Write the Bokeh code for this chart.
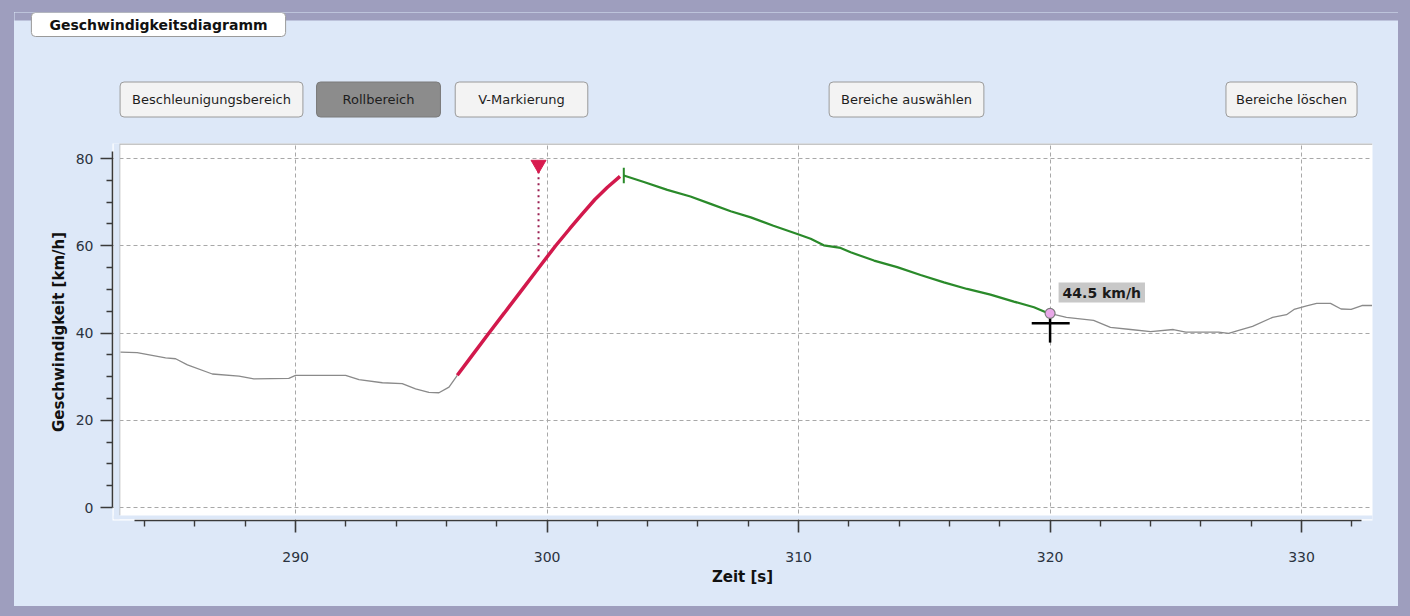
from bokeh.plotting import figure
from bokeh.layouts import column
from bokeh.models import FixedTicker, Range1d, BoxAnnotation, Label
from bokeh.embed import file_html
from bokeh.resources import INLINE

# ---------------- data ----------------
gray_pre_x = [283.04, 283.7, 284.83, 285.23, 285.7, 286.69, 287.75, 288.34, 289.73, 290.0,
              291.99, 292.52, 293.45, 294.24, 294.77, 295.3, 295.7, 296.1, 296.43]
gray_pre_y = [35.6, 35.5, 34.3, 34.1, 32.7, 30.6, 30.1, 29.5, 29.6, 30.3,
              30.3, 29.3, 28.6, 28.4, 27.2, 26.4, 26.3, 27.6, 30.3]

accel_x = [296.43, 297.0, 297.69, 298.3, 299.0, 299.7, 300.34, 300.9, 301.4, 301.9, 302.4, 302.9]
accel_y = [30.3, 34.7, 40.0, 44.6, 49.9, 55.2, 60.0, 63.9, 67.3, 70.6, 73.4, 75.9]

roll_x = [303.05, 303.85, 304.78, 305.7, 306.5, 307.3, 308.1, 309.0, 309.95, 310.48, 311.0,
          311.67, 312.07, 313.0, 313.92, 314.85, 315.78, 316.7, 317.63, 318.56, 319.36, 319.9]
roll_y = [76.1, 74.6, 72.8, 71.3, 69.6, 67.9, 66.5, 64.6, 62.7, 61.6, 60.1,
          59.5, 58.5, 56.6, 55.1, 53.3, 51.6, 50.1, 48.8, 47.2, 45.9, 44.6]

gray_post_x = [319.9, 320.65, 321.73, 322.4, 323.2, 324.0, 324.9, 325.4, 326.7, 327.1, 327.5,
               328.05, 328.85, 329.4, 329.7, 330.2, 330.6, 331.15, 331.57, 331.97, 332.4, 332.8]
gray_post_y = [44.6, 43.6, 42.9, 41.3, 40.8, 40.3, 40.8, 40.2, 40.2, 39.9, 40.6,
               41.5, 43.6, 44.2, 45.4, 46.2, 46.8, 46.8, 45.5, 45.4, 46.3, 46.3]

v_marker_x = 299.66
v_marker_top = 78.6
v_marker_bottom = 57.0

cursor_x = 320.0
cursor_v = 44.5
cursor_text = "44.5 km/h"

x_ticks = [290, 300, 310, 320, 330]
x_minor = [t for t in range(284, 333, 2) if t % 10 != 0]
y_ticks = [0, 20, 40, 60, 80]
y_minor = [t for t in range(0, 81, 5) if t % 20 != 0]

buttons = ["Beschleunigungsbereich", "Rollbereich", "V-Markierung",
           "Bereiche auswählen", "Bereiche löschen"]
active_button = "Rollbereich"
panel_title = "Geschwindigkeitsdiagramm"
x_label = "Zeit [s]"
y_label = "Geschwindigkeit [km/h]"

# ---------------- styling ----------------
PANEL = "#dde8f8"
OUTER = "#9e9ebe"
FONT = "DejaVu Sans"
W = 1384
TOP0 = 12          # page y where the header canvas starts
PANEL_TOP = 20     # page y where the light-blue panel starts
HEAD_H = 131
MAIN_H = 463

# ---- header strip (title tab + buttons); its coordinates are page pixels ----
head = figure(width=W, height=HEAD_H, output_backend="svg", toolbar_location=None,
              x_range=Range1d(14, 14 + W), y_range=Range1d(TOP0 + HEAD_H, TOP0),
              x_axis_type=None, y_axis_type=None, title=None,
              min_border_left=0, min_border_right=0, min_border_top=0, min_border_bottom=0)
head.frame_align = False
head.border_fill_color = PANEL
head.background_fill_color = PANEL
head.outline_line_color = None
head.quad(left=[0], right=[14 + W + 10], top=[TOP0 - 6], bottom=[PANEL_TOP],
          fill_color=OUTER, line_color=None)

btn_centers = [211, 378, 521, 906, 1291]
btn_hpad = [12, 26, 23, 12, 10]
for name, cx, hp in zip(buttons, btn_centers, btn_hpad):
    active = name == active_button
    head.add_layout(Label(x=cx, y=99, text=name, text_align="center", text_baseline="middle",
                          text_font=FONT, text_font_size="13px", text_color="#1e1e1e",
                          background_fill_color="#8c8c8c" if active else "#f3f3f3",
                          border_line_color="#7a7a7a" if active else "#9a9a9a",
                          border_radius=4, padding=(hp, 10)))

head.add_layout(Label(x=158, y=24, text=panel_title, text_align="center", text_baseline="middle",
                      text_font=FONT, text_font_size="14px", text_font_style="bold", text_color="#111111",
                      background_fill_color="white", border_line_color="#9a9a9a",
                      border_radius=4, padding=(18, 4)))

# ---- main chart ----
X0, X1 = 282.72, 332.82
Y0, Y1 = -2.98, 83.44

p = figure(width=W, height=MAIN_H, output_backend="svg", toolbar_location=None,
           x_range=Range1d(X0, X1), y_range=Range1d(Y0, Y1),
           min_border_left=98, min_border_right=26, min_border_top=0, min_border_bottom=86,
           title=None)
p.frame_align = False
p.border_fill_color = PANEL
p.background_fill_color = "white"
p.outline_line_color = None


def px2x(px):
    return 290 + (px - 295) / 25.15


def py2y(py):
    return (507 - py) / 4.3625


p.xaxis.ticker = FixedTicker(ticks=x_ticks, minor_ticks=x_minor)
p.yaxis.ticker = FixedTicker(ticks=y_ticks, minor_ticks=y_minor)
p.xaxis.bounds = (283.6, 332.4)
p.yaxis.bounds = (0, 81.6)
for ax in (p.xaxis[0], p.yaxis[0]):
    ax.axis_line_color = "#3a3a3a"
    ax.axis_line_width = 1.6
    ax.major_tick_line_color = "#3a3a3a"
    ax.major_tick_line_width = 1.6
    ax.minor_tick_line_color = "#3a3a3a"
    ax.minor_tick_line_width = 1.4
    ax.major_tick_in = 0
    ax.major_tick_out = 12
    ax.minor_tick_in = 0
    ax.minor_tick_out = 6
    ax.major_label_text_font = FONT
    ax.major_label_text_font_size = "14px"
    ax.major_label_text_color = "#2b3340"
    ax.axis_label_text_font = FONT
    ax.axis_label_text_font_size = "15px"
    ax.axis_label_text_font_style = "bold"
    ax.axis_label_text_color = "#111111"
p.xaxis.axis_label = x_label
p.yaxis.axis_label = y_label
p.xaxis.major_label_standoff = 19
p.xaxis.axis_label_standoff = 3
p.yaxis.major_label_standoff = 7
p.yaxis.axis_label_standoff = 5

for g in (p.xgrid[0], p.ygrid[0]):
    g.grid_line_color = "#a8a8a8"
    g.grid_line_dash = "4 3"
    g.grid_line_width = 1

# light-blue strips between the axes and the white plotting area
p.add_layout(BoxAnnotation(left=X0 + 1.2 / 25.15, right=283.0, bottom=Y0 + 1.2 / 4.3625, top=Y1 + 1,
                           fill_color=PANEL, fill_alpha=1, line_color=None))
p.add_layout(BoxAnnotation(left=X0 + 1.2 / 25.15, right=X1 + 1, bottom=Y0 + 1.2 / 4.3625, top=-1.83,
                           fill_color=PANEL, fill_alpha=1, line_color=None))
p.line([283.0, 283.0, X1], [-1.83, 83.3, 83.3], line_color="#b4b4b4", line_width=1.5)

# speed curve
p.line(gray_pre_x, gray_pre_y, line_color="#8a8a8a", line_width=1.3)
p.line(gray_post_x, gray_post_y, line_color="#8a8a8a", line_width=1.3)
p.line(accel_x, accel_y, line_color="#d2194c", line_width=3.5)
p.line(roll_x, roll_y, line_color="#2a8a2a", line_width=2.2)
p.segment(x0=[roll_x[0]], y0=[74.3], x1=[roll_x[0]], y1=[77.9], line_color="#2a8a2a", line_width=2)

# V marker
p.segment(x0=[v_marker_x], y0=[v_marker_top - 1.5], x1=[v_marker_x], y1=[v_marker_bottom],
          line_color="#9a1f52", line_width=2, line_dash="2 4")
p.scatter([v_marker_x], [v_marker_top], marker="inverted_triangle", size=15,
          fill_color="#d81b4f", line_color="#d81b4f")

# cursor
p.segment(x0=[cursor_x - 0.73, cursor_x], y0=[42.25, 44.7], x1=[cursor_x + 0.78, cursor_x], y1=[42.25, 37.8],
          line_color="black", line_width=2.5)
p.scatter([cursor_x], [cursor_v], marker="circle", size=10, fill_color="#e8a8e8", line_color="#7a7a7a",
          line_width=1.2)
p.add_layout(Label(x=px2x(1058), y=py2y(292), text=cursor_text, text_align="left", text_baseline="middle",
                   text_font=FONT, text_font_size="14px", text_font_style="bold", text_color="#1a1a1a",
                   background_fill_color="#c8c8c8", padding=(4, 2)))

layout = column(head, p, spacing=0, styles={"background-color": PANEL})

template = """{% block preamble %}<style>
html, body { margin: 0 !important; padding: 0 !important; background: #9e9ebe !important; }
body { padding: 12px 0 0 14px !important; box-sizing: border-box !important; }
</style>{% endblock %}"""

open("out.html", "w").write(file_html(layout, INLINE, template=template))
